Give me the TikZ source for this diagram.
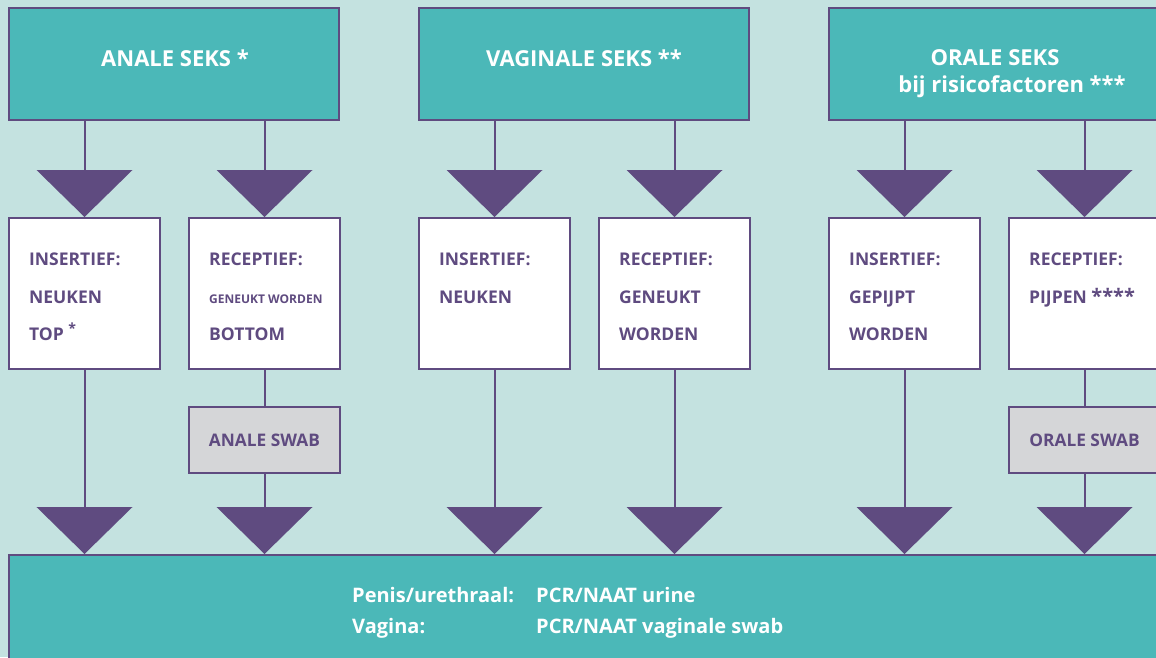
\documentclass[tikz,border=0pt]{standalone}
\usepackage{fontspec}
\setmainfont{Open Sans}
\definecolor{bgc}{HTML}{C4E2E0}
\definecolor{tealc}{HTML}{4BB8B8}
\definecolor{purp}{HTML}{5F4B80}
\definecolor{grayc}{HTML}{D5D6D8}
\tikzset{
  topbox/.style={draw=purp, line width=2pt, fill=tealc, minimum width=330pt, minimum height=112pt, anchor=north west, inner sep=0pt, outer sep=0pt},
  wbox/.style={draw=purp, line width=2pt, fill=white, minimum width=151pt, minimum height=151pt, anchor=north west, inner sep=0pt, outer sep=0pt},
  gbox/.style={draw=purp, line width=2pt, fill=grayc, minimum width=151pt, minimum height=66pt, text=purp, font=\fontsize{17.3}{20}\selectfont\bfseries, inner sep=0pt, outer sep=0pt},
  bbox/.style={draw=purp, line width=2pt, fill=tealc, minimum width=1170pt, minimum height=120pt, anchor=north west, inner sep=0pt, outer sep=0pt},
  toptext/.style={text=white, font=\fontsize{22}{24}\selectfont\bfseries, inner sep=0pt},
  wtext/.style={text=purp, font=\fontsize{17.5}{20}\selectfont\bfseries, inner sep=0pt, anchor=base west},
  stext/.style={text=purp, font=\fontsize{12}{15}\selectfont\bfseries, inner sep=0pt, anchor=base west},
  btext/.style={text=white, font=\fontsize{20}{24}\selectfont\bfseries, inner sep=0pt, anchor=base west},
  conn/.style={draw=purp, line width=2pt},
  tri/.style={fill=purp},
}
\newcommand{\mytri}[1]{\fill[tri] (#1) ++(-48,0) -- ++(96,0) -- ++(-48,47) -- cycle;}
\begin{document}
\begin{tikzpicture}[x=1pt,y=-1pt]
\useasboundingbox (0,0) rectangle (1156,657);
\clip (0,0) rectangle (1156,657);
\fill[bgc] (0,0) rectangle (1156,657);

% top boxes
\node[topbox] (A) at (9,8) {};
\node[topbox] (V) at (419,8) {};
\node[topbox] (O) at (829,8) {};
\node[toptext] (Atxt) at (175,58) {ANALE SEKS *};
\node[toptext] (Vtxt) at (584,58) {VAGINALE SEKS **};
\node[toptext] (Otxt1) at (995,58) {ORALE SEKS};
\node[toptext] (Otxt2) at (1012,87) {bij risicofactoren ***};

% white boxes
\node[wbox] (w1) at (9,218) {};
\node[wbox] (w2) at (189,218) {};
\node[wbox] (w3) at (419,218) {};
\node[wbox] (w4) at (599,218) {};
\node[wbox] (w5) at (829,218) {};
\node[wbox] (w6) at (1009,218) {};

% gray boxes
\node[gbox] (g2) at (264.5,440) {ANALE SWAB};
\node[gbox] (g6) at (1084.5,440) {ORALE SWAB};

% bottom box
\node[bbox] (B) at (9,555) {};

% triangle coordinates
\foreach \n/\x in {1/84.5,2/264.5,3/494.5,4/674.5,5/904.5,6/1084.5}{
  \coordinate (t\n) at (\x,170);
  \coordinate (b\n) at (\x,507);
}

% connectors top
\draw[conn] (t1 |- A.south) -- (t1);
\draw[conn] (t2 |- A.south) -- (t2);
\draw[conn] (t3 |- V.south) -- (t3);
\draw[conn] (t4 |- V.south) -- (t4);
\draw[conn] (t5 |- O.south) -- (t5);
\draw[conn] (t6 |- O.south) -- (t6);

% connectors lower
\draw[conn] (w1.south) -- (b1);
\draw[conn] (w2.south) -- (g2.north);
\draw[conn] (g2.south) -- (b2);
\draw[conn] (w3.south) -- (b3);
\draw[conn] (w4.south) -- (b4);
\draw[conn] (w5.south) -- (b5);
\draw[conn] (w6.south) -- (g6.north);
\draw[conn] (g6.south) -- (b6);

% triangles
\foreach \n in {1,...,6}{ \mytri{t\n} \mytri{b\n} }

% white box texts
\node[wtext] (w1a) at (29,265) {INSERTIEF:};
\node[wtext] (w1b) at (29,303) {NEUKEN};
\node[wtext] (w1c) at (29,340) {TOP \raisebox{7pt}{\fontsize{14}{14}\selectfont *}};
\node[wtext] (w2a) at (209,265) {RECEPTIEF:};
\node[stext] (w2b) at (209,303) {GENEUKT WORDEN};
\node[wtext] (w2c) at (209,340) {BOTTOM};
\node[wtext] (w3a) at (439,265) {INSERTIEF:};
\node[wtext] (w3b) at (439,303) {NEUKEN};
\node[wtext] (w4a) at (619,265) {RECEPTIEF:};
\node[wtext] (w4b) at (619,303) {GENEUKT};
\node[wtext] (w4c) at (619,340) {WORDEN};
\node[wtext] (w5a) at (849,265) {INSERTIEF:};
\node[wtext] (w5b) at (849,303) {GEPIJPT};
\node[wtext] (w5c) at (849,340) {WORDEN};
\node[wtext] (w6a) at (1029,265) {RECEPTIEF:};
\node[wtext] (w6b) at (1029,303) {PIJPEN {\fontsize{20}{20}\selectfont ****}};

% bottom texts
\node[btext] (p1) at (352,602) {Penis/urethraal:};
\node[btext] (p2) at (536,602) {PCR/NAAT urine};
\node[btext] (v1) at (352,633) {Vagina:};
\node[btext] (v2) at (536,633) {PCR/NAAT vaginale swab};
\end{tikzpicture}
\end{document}
